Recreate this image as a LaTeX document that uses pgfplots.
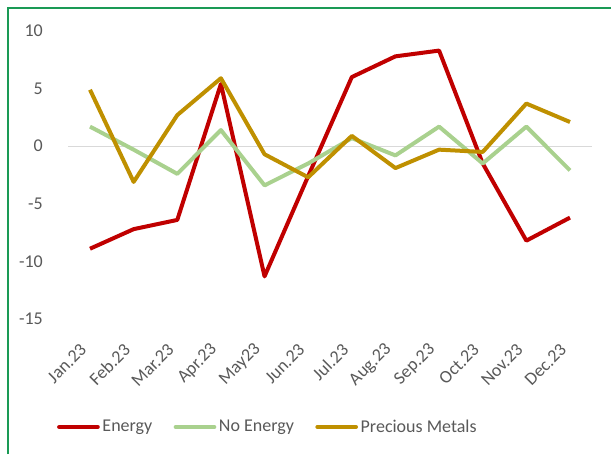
\documentclass[border=0pt]{standalone}
\usepackage{pgfplots}
\pgfplotsset{compat=1.18}
\usepackage{fontspec}
\setmainfont{Carlito}
\definecolor{energy}{HTML}{C00000}
\definecolor{noenergy}{HTML}{A9D18E}
\definecolor{metals}{HTML}{BF9000}
\definecolor{txt}{HTML}{595959}
\definecolor{frame}{HTML}{1A9A55}
\definecolor{zeroline}{HTML}{D9D9D9}
\begin{document}
\begin{tikzpicture}[x=0.75pt,y=0.75pt]
\path[use as bounding box] (0,0) rectangle (611,454);
\draw[frame, line width=1.6pt] (8,0) -- (8,446) -- (611,446);
\begin{axis}[
  at={(51.15pt,101.25pt)}, anchor=south west,
  scale only axis, width=392.7pt, height=216pt,
  xmin=-0.5, xmax=11.5, ymin=-15, ymax=10,
  ytick={-15,-10,...,10},
  xtick={0,...,11},
  xticklabels={Jan.23,Feb.23,Mar.23,Apr.23,May23,Jun.23,Jul.23,Aug.23,Sep.23,Oct.23,Nov.23,Dec.23},
  axis line style={draw=none},
  major tick length=0pt,
  tick style={draw=none},
  extra y ticks={0}, extra y tick labels={},
  extra y tick style={grid=major, major grid style={zeroline, line width=0.9pt}},
  /pgf/number format/assume math mode=true,
  tick label style={font=\fontsize{13.5}{16}\selectfont, text=txt},
  yticklabel style={xshift=-15.5pt},
  xticklabel style={xshift=-2.5pt, yshift=-18.5pt, rotate=45, anchor=east},
  legend style={at={(0.382,-0.375)}, anchor=center, draw=none, fill=none,
    font=\fontsize{13.5}{16}\selectfont, text=txt, legend columns=3,
    /tikz/every even column/.append style={column sep=14pt}},
  legend image code/.code={\draw[#1, line cap=round] (0pt,0pt) -- (29pt,0pt);},
  line join=round,
]
\addplot[energy, line width=3pt] coordinates {
 (0,-8.9) (1,-7.2) (2,-6.4) (3,5.4) (4,-11.3) (5,-2.6) (6,6.0) (7,7.8) (8,8.3) (9,-1.5) (10,-8.2) (11,-6.2)};
\addlegendentry{Energy}
\addplot[noenergy, line width=3pt] coordinates {
 (0,1.7) (1,-0.3) (2,-2.4) (3,1.4) (4,-3.4) (5,-1.5) (6,0.7) (7,-0.8) (8,1.7) (9,-1.5) (10,1.7) (11,-2.1)};
\addlegendentry{No Energy}
\addplot[metals, line width=3pt] coordinates {
 (0,4.9) (1,-3.1) (2,2.7) (3,5.9) (4,-0.7) (5,-2.7) (6,0.9) (7,-1.9) (8,-0.3) (9,-0.5) (10,3.7) (11,2.1)};
\addlegendentry{Precious Metals}
\end{axis}
\end{tikzpicture}
\end{document}
